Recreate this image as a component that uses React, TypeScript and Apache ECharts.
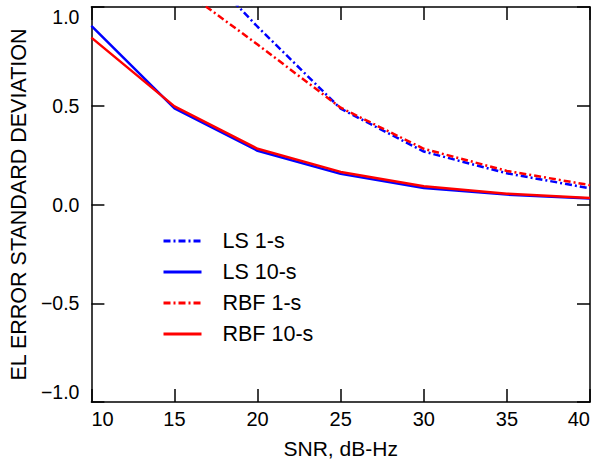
import React, { useEffect, useRef } from "react";
import * as echarts from "echarts";

const snr = [10, 15, 20, 25, 30, 35, 40];
const ls1s = [2.0, 1.34, 0.9, 0.485, 0.268, 0.158, 0.082];
const ls10s = [0.905, 0.487, 0.272, 0.155, 0.084, 0.05, 0.03];
const rbf1s = [1.6, 1.12, 0.81, 0.49, 0.282, 0.17, 0.098];
const rbf10s = [0.845, 0.497, 0.282, 0.165, 0.092, 0.055, 0.033];
const seriesNames = ["LS 1-s", "LS 10-s", "RBF 1-s", "RBF 10-s"];

const FONT = "Liberation Sans, Arial, sans-serif";
const dashDot = [7, 3, 2, 3];

export default function App() {
  const ref = useRef<HTMLDivElement>(null);
  useEffect(() => {
    const chart = echarts.init(ref.current!, null, { renderer: "svg" });
    const mk = (name: string, vals: number[], color: string, dashed: boolean) => ({
      name,
      type: "line",
      data: snr.map((x, i) => [x, vals[i]]),
      symbol: "none",
      clip: true,
      lineStyle: { color, width: 2.5, type: dashed ? dashDot : "solid" },
      itemStyle: { color },
    });
    const axisLine = { show: true, onZero: false, lineStyle: { color: "#000", width: 1.5 } };
    const tick = { show: true, inside: true, length: 13, lineStyle: { color: "#000", width: 1.5 } };
    const fmt = (v: number) => v.toFixed(1).replace("-", "\u2212");
    chart.setOption({
      animation: false,
      textStyle: { fontFamily: FONT },
      grid: { left: 88, right: 9, top: 7, bottom: 68 },
      legend: {
        orient: "vertical",
        left: 162,
        top: 230,
        padding: 0,
        itemWidth: 38,
        itemHeight: 14,
        itemGap: 9,
        data: seriesNames,
        itemStyle: { opacity: 0 },
        lineStyle: { width: 3 },
        textStyle: { fontSize: 21.5, color: "#000", fontFamily: FONT, padding: [0, 0, 0, 16] },
      },
      xAxis: [
        {
          type: "value",
          min: 10,
          max: 40,
          interval: 5,
          position: "bottom",
          name: "SNR, dB-Hz",
          nameLocation: "middle",
          nameGap: 36,
          nameTextStyle: { fontSize: 21, color: "#000", fontFamily: FONT },
          axisLine,
          axisTick: tick,
          splitLine: { show: false },
          axisLabel: {
            fontSize: 20,
            color: "#000",
            margin: 7,
            fontFamily: FONT,
            alignMinLabel: "left",
            alignMaxLabel: "right",
          },
        },
        {
          type: "value",
          min: 10,
          max: 40,
          interval: 5,
          position: "top",
          axisLine,
          axisTick: tick,
          splitLine: { show: false },
          axisLabel: { show: false },
        },
      ],
      yAxis: [
        {
          type: "value",
          min: -1,
          max: 1,
          interval: 0.5,
          position: "left",
          name: "EL ERROR STANDARD DEVIATION",
          nameLocation: "middle",
          nameGap: 57,
          nameTextStyle: { fontSize: 21.5, color: "#000", fontFamily: FONT },
          axisLine,
          axisTick: tick,
          splitLine: { show: false },
          axisLabel: {
            fontSize: 19.5,
            color: "#000",
            margin: 12,
            fontFamily: FONT,
            formatter: fmt,
            verticalAlignMaxLabel: "top",
            verticalAlignMinLabel: "bottom",
          },
        },
        {
          type: "value",
          min: -1,
          max: 1,
          interval: 0.5,
          position: "right",
          axisLine,
          axisTick: tick,
          splitLine: { show: false },
          axisLabel: { show: false },
        },
      ],
      series: [
        mk(seriesNames[0], ls1s, "#0000ff", true),
        mk(seriesNames[1], ls10s, "#0000ff", false),
        mk(seriesNames[2], rbf1s, "#ff0000", true),
        mk(seriesNames[3], rbf10s, "#ff0000", false),
      ],
    });
    return () => chart.dispose();
  }, []);
  return (
    <div
      ref={ref}
      style={{ position: "fixed", left: 0, top: 0, width: 599, height: 470, background: "#fff" }}
    />
  );
}
